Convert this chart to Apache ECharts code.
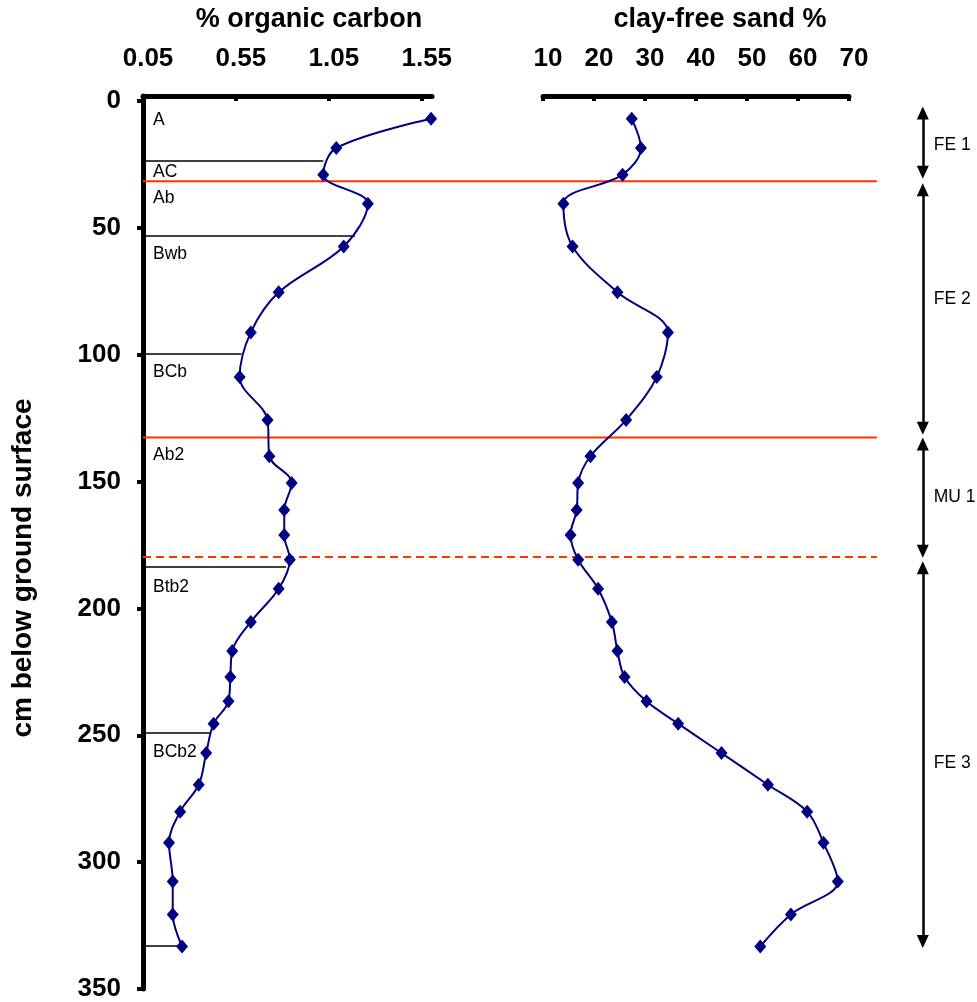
<!DOCTYPE html>
<html><head><meta charset="utf-8">
<script src="https://cdn.jsdelivr.net/npm/echarts@6/dist/echarts.min.js"></script>
<style>html,body{margin:0;padding:0;background:#fff}#c{width:977px;height:1002px}</style>
</head><body><div id="c"></div>
<script>
// ---- data ----
const depths = [7, 18.5, 29, 40.5, 57.3, 75.4, 91.2, 108.8, 125.7, 140, 150.5, 161.2, 171, 180.8, 192.2, 205.3, 216.8, 227, 236.6, 245.4, 257, 269.5, 280.1, 292.4, 307.6, 320.6, 333.2];
const organicCarbon = [1.60, 1.09, 1.02, 1.26, 1.13, 0.78, 0.63, 0.57, 0.72, 0.73, 0.85, 0.81, 0.81, 0.84, 0.78, 0.63, 0.53, 0.52, 0.51, 0.43, 0.39, 0.35, 0.25, 0.19, 0.21, 0.21, 0.26];
const claySand = [27.4, 29.2, 25.6, 14.0, 15.8, 24.6, 34.5, 32.3, 26.3, 19.3, 16.9, 16.6, 15.4, 16.9, 20.8, 23.5, 24.6, 26.0, 30.3, 36.5, 45.0, 54.1, 61.8, 65.0, 67.8, 58.6, 52.6];
const carbonTicks = [0.05, 0.55, 1.05, 1.55];
const sandTicks = [10, 20, 30, 40, 50, 60, 70];
const depthTicks = [0, 50, 100, 150, 200, 250, 300, 350];
const horizonNames = ['A', 'AC', 'Ab', 'Bwb', 'BCb', 'Ab2', 'Btb2', 'BCb2'];
const horizonLabelDepths = [7.7, 28.2, 38.4, 60.3, 107, 139.4, 191.8, 256.5];
const boundaryDepths = [23.5, 53.0, 99.6, 183.6, 249.1, 332.9];
const boundaryCarbon = [1.02, 1.19, 0.58, 0.82, 0.41, 0.26];
const solidRedDepths = [31.6, 132.6];
const dashedRedDepths = [179.7];
const unitNames = ['FE 1', 'FE 2', 'MU 1', 'FE 3'];
const unitTop = [2.2, 32.5, 132.7, 181.5];
const unitBottom = [30.6, 131.5, 179.9, 333.8];
const unitLabelDepths = [17.5, 77.9, 156.3, 260.8];

// ---- layout constants ----
const FONT = '"Liberation Sans", Arial, Helvetica, sans-serif';
const NAVY = '#000080';
const RED = '#FF3300';
const Y_MIN = -2, Y_MAX = 350;
const GRID_TOP = 96, GRID_H = 893;
const RED_END = 88;     // overlay x (0..100)
const ARROW_X = 93.5;   // overlay x (0..100)
const ARROW_HALF = 2.5; // depth units, half arrowhead

const chart = echarts.init(document.getElementById('c'), null, {renderer: 'canvas'});

const xAxisCommon = {
  type: 'value', position: 'top',
  axisLine: {show: true, onZero: false, lineStyle: {color: '#000', width: 5}},
  axisTick: {show: true, inside: true, length: 5, lineStyle: {color: '#000', width: 4}},
  axisLabel: {color: '#000', fontSize: 26, fontWeight: 'bold', fontFamily: FONT, margin: 24, padding: [0, 0, 0, 10]},
  splitLine: {show: false}
};

const yAxisCommon = {
  type: 'value', inverse: true, min: Y_MIN, max: Y_MAX
};

const textLabel = {show: true, position: 'right', formatter: '{b}', color: '#000', opacity: 1, fontSize: 17.5, fontFamily: FONT};

const option = {
  animation: false,
  backgroundColor: '#fff',
  textStyle: {fontFamily: FONT},
  grid: [
    {left: 143, top: GRID_TOP, width: 289, height: GRID_H},
    {left: 543, top: GRID_TOP, width: 306, height: GRID_H},
    {left: 143, top: GRID_TOP, width: 834, height: GRID_H}
  ],
  xAxis: [
    Object.assign({}, xAxisCommon, {
      gridIndex: 0, min: 0.05, max: 1.605,
      axisTick: Object.assign({}, xAxisCommon.axisTick, {customValues: carbonTicks}),
      axisLabel: Object.assign({}, xAxisCommon.axisLabel, {customValues: carbonTicks, formatter: v => Number(v).toFixed(2)})
    }),
    Object.assign({}, xAxisCommon, {
      gridIndex: 1, min: 10, max: 70,
      axisTick: Object.assign({}, xAxisCommon.axisTick, {customValues: sandTicks}),
      axisLabel: Object.assign({}, xAxisCommon.axisLabel, {customValues: sandTicks})
    }),
    {gridIndex: 2, type: 'value', min: 0, max: 100, show: false}
  ],
  yAxis: [
    Object.assign({}, yAxisCommon, {
      gridIndex: 0,
      axisLine: {show: true, onZero: false, lineStyle: {color: '#000', width: 5}},
      axisTick: {show: true, inside: false, length: 6, lineStyle: {color: '#000', width: 4}, customValues: depthTicks},
      axisLabel: {color: '#000', fontSize: 26, fontWeight: 'bold', fontFamily: FONT, margin: 22, customValues: depthTicks},
      splitLine: {show: false}
    }),
    Object.assign({}, yAxisCommon, {gridIndex: 1, show: false}),
    Object.assign({}, yAxisCommon, {gridIndex: 2, show: false})
  ],
  graphic: [
    {type: 'text', x: 309, y: 20, style: {text: '% organic carbon', font: 'bold 27px ' + FONT, fill: '#000', textAlign: 'center', textVerticalAlign: 'middle'}},
    {type: 'text', x: 720, y: 20, style: {text: 'clay-free sand %', font: 'bold 27px ' + FONT, fill: '#000', textAlign: 'center', textVerticalAlign: 'middle'}},
    {type: 'text', x: 23, y: 568, rotation: Math.PI / 2, style: {text: 'cm below ground surface', font: 'bold 28px ' + FONT, fill: '#000', textAlign: 'center', textVerticalAlign: 'middle'}}
  ],
  series: [
    {
      name: 'organic carbon', type: 'line', xAxisIndex: 0, yAxisIndex: 0,
      data: depths.map((d, i) => [organicCarbon[i], d]),
      smooth: 0.35, clip: false, z: 5,
      symbol: 'diamond', symbolSize: [12, 14],
      itemStyle: {color: NAVY}, lineStyle: {color: NAVY, width: 2},
      markLine: {
        silent: true, symbol: ['none', 'none'], label: {show: false},
        lineStyle: {color: '#000', width: 1.5, type: 'solid'},
        data: boundaryDepths.map((d, i) => [{coord: [0.05, d]}, {coord: [boundaryCarbon[i], d]}])
      }
    },
    {
      name: 'horizons', type: 'scatter', xAxisIndex: 0, yAxisIndex: 0,
      symbolSize: 0, silent: true, z: 6,
      itemStyle: {opacity: 1},
      data: horizonLabelDepths.map((d, i) => ({name: horizonNames[i], value: [0.05, d]})),
      label: Object.assign({}, textLabel, {distance: 10})
    },
    {
      name: 'clay-free sand', type: 'line', xAxisIndex: 1, yAxisIndex: 1,
      data: depths.map((d, i) => [claySand[i], d]),
      smooth: 0.35, clip: false, z: 5,
      symbol: 'diamond', symbolSize: [12, 14],
      itemStyle: {color: NAVY}, lineStyle: {color: NAVY, width: 2}
    },
    ...solidRedDepths.map(d => ({
      type: 'line', xAxisIndex: 2, yAxisIndex: 2, silent: true, z: 3,
      data: [[0, d], [RED_END, d]], symbol: 'none',
      lineStyle: {color: RED, width: 2, type: 'solid'}
    })),
    ...dashedRedDepths.map(d => ({
      type: 'line', xAxisIndex: 2, yAxisIndex: 2, silent: true, z: 3,
      data: [[0, d], [RED_END, d]], symbol: 'none',
      lineStyle: {color: RED, width: 2, type: [8, 5]}
    })),
    {
      name: 'units', type: 'scatter', xAxisIndex: 2, yAxisIndex: 2,
      symbolSize: 0, silent: true,
      itemStyle: {opacity: 1},
      data: unitLabelDepths.map((d, i) => ({name: unitNames[i], value: [ARROW_X, d]})),
      label: Object.assign({}, textLabel, {distance: 11}),
      markLine: {
        silent: true, symbol: ['triangle', 'triangle'], symbolSize: [12, 13],
        label: {show: false},
        lineStyle: {color: '#000', width: 2.5, type: 'solid', opacity: 1},
        itemStyle: {color: '#000', opacity: 1},
        data: unitTop.map((t, i) => [{coord: [ARROW_X, t + ARROW_HALF]}, {coord: [ARROW_X, unitBottom[i] - ARROW_HALF]}])
      }
    }
  ]
};
chart.setOption(option);
</script>
</body></html>
